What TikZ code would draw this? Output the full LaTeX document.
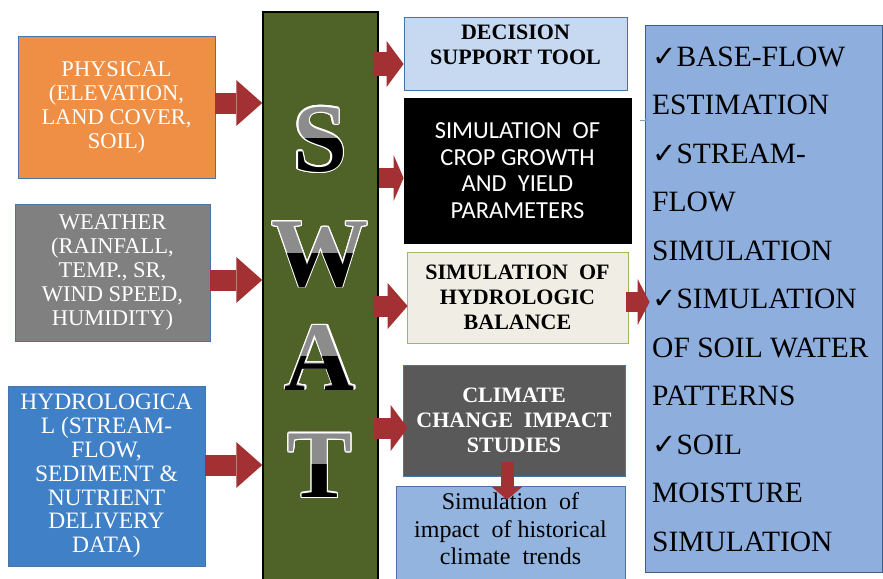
\documentclass[tikz,border=0pt]{standalone}
\usepackage{fontspec}
\setmainfont{Liberation Serif}
\newfontfamily\cropfont{Carlito}
\newfontfamily\chkfont{DejaVu Sans}
\usepackage{contour}
\contourlength{1.2pt}
\usetikzlibrary{arrows.meta,calc}

\definecolor{physorange}{HTML}{EF8F45}
\definecolor{weathergray}{HTML}{808080}
\definecolor{hydroblue}{HTML}{4080C6}
\definecolor{swatgreen}{HTML}{4F6228}
\definecolor{arrowred}{HTML}{A33033}
\definecolor{boxblue}{HTML}{4A74A8}
\definecolor{toolblue}{HTML}{C6D9F0}
\definecolor{cream}{HTML}{F0EEE4}
\definecolor{leafgreen}{HTML}{9BBB59}
\definecolor{darkgray}{HTML}{595959}
\definecolor{trendblue}{HTML}{93B4DF}
\definecolor{listblue}{HTML}{8EAFDE}
\definecolor{lettergray}{HTML}{8C8C8C}

\newcommand{\chkmark}{{\chkfont\fontsize{29}{29}\selectfont ✓}}

\tikzset{
  box/.style={draw=boxblue, line width=0.8pt, align=center, inner sep=0pt},
  inbox/.style={box, text=white, font=\fontsize{22.5}{24}\selectfont},
  outbox/.style={box, font=\fontsize{22}{25}\selectfont\bfseries},
  swatletter/.style={inner sep=0pt, font=\fontsize{97}{97}\selectfont\bfseries},
  bigarrow/.style={line width=21pt, draw=arrowred,
    -{Triangle[width=46pt,length=#1,line width=0pt]}},
  bigarrow/.default=26pt
}

\begin{document}
\begin{tikzpicture}[x=1pt,y=-1pt]
\useasboundingbox (0,0) rectangle (883,578);

% inputs
\node[inbox, fill=physorange, minimum width=197pt, minimum height=142pt] (phys) at (116.5,107)
  {PHYSICAL\\(ELEVATION,\\LAND COVER,\\SOIL)};
\node[inbox, fill=weathergray, minimum width=195pt, minimum height=137pt] (weather) at (112.5,272.5)
  {WEATHER\\(RAINFALL,\\TEMP., SR,\\WIND SPEED,\\HUMIDITY)};
\node[inbox, fill=hydroblue, minimum width=197pt, minimum height=180pt,
  font=\fontsize{23.5}{23.8}\selectfont] (hydro) at (106.5,476)
  {HYDROLOGICA\\L (STREAM-\\FLOW,\\SEDIMENT \&\\NUTRIENT\\DELIVERY\\DATA)};

% model column
\node[draw=black, line width=1.5pt, fill=swatgreen, minimum width=115pt, minimum height=580pt,
  inner sep=0pt] (swat) at (320.5,302) {};
\foreach \ltr/\ly in {S/140,W/255,A/358,T/466}{
  \node[swatletter, text=lettergray] (l\ltr) at (320,\ly) {\contour{white}{\ltr}};
  \begin{scope}
    \clip (263,\ly-2) rectangle (378,\ly+40);
    \node[swatletter, text=black] (d\ltr) at (320,\ly) {\ltr};
  \end{scope}
}

% outputs
\node[box, fill=toolblue, minimum width=223pt, minimum height=73pt] (tool) at (515.5,53.5) {};
\node[outbox, draw=none] (tooltext) at (515.5,45) {DECISION\\SUPPORT TOOL};
\node[box, draw=black, fill=black, text=white, minimum width=227pt, minimum height=145pt,
  font=\cropfont\fontsize{24.5}{26.5}\selectfont] (crop) at (517.5,170.5)
  {SIMULATION\ \ OF\\CROP GROWTH\\AND\ \ YIELD\\PARAMETERS};
\node[outbox, draw=leafgreen, fill=cream, minimum width=221pt, minimum height=91pt] (hbal) at (517.5,297.5)
  {SIMULATION\ \ OF\\HYDROLOGIC\\BALANCE};
\node[outbox, fill=darkgray, text=white, minimum width=222pt, minimum height=111pt] (climate) at (514,420.5)
  {CLIMATE\\CHANGE\ \ IMPACT\\STUDIES};
\node[box, fill=trendblue, minimum width=229pt, minimum height=104pt] (trends) at (510.5,538) {};
\node[box, draw=none, font=\fontsize{24}{27.5}\selectfont] (trendstext) at (510.5,529)
  {Simulation\ \ of\\impact\ \ of historical\\climate\ \ trends};
\node[box, draw=boxblue!80!black, fill=listblue, minimum width=237pt, minimum height=547pt] (list) at (763.5,298.5) {};
\node[anchor=west, align=left, inner sep=0pt, font=\fontsize{29.5}{48.5}\selectfont] (items) at (652,299)
  {\chkmark BASE-FLOW\\ESTIMATION\\\chkmark STREAM-\\FLOW\\SIMULATION\\\chkmark SIMULATION\\OF SOIL WATER\\PATTERNS\\\chkmark SOIL\\MOISTURE\\SIMULATION};

% rows of the arrows
\coordinate (rphys) at (0,103);
\coordinate (rweather) at (0,280);
\coordinate (rhydro) at (0,465);
\coordinate (rtool) at (0,64);
\coordinate (rcrop) at (0,178);
\coordinate (rhbal) at (0,306);
\coordinate (rclimate) at (0,428);
\coordinate (rlist) at (0,302);
\coordinate (rtiny) at (0,120);

\draw[bigarrow] (phys.east |- rphys) -- (swat.west |- rphys);
\draw[bigarrow] (weather.east |- rweather) -- (swat.west |- rweather);
\draw[bigarrow] (hydro.east |- rhydro) -- (swat.west |- rhydro);
\draw[bigarrow=17pt, line width=24pt, shorten <=-6pt] (swat.east |- rtool) -- (tool.west |- rtool);
\draw[bigarrow=10pt, line width=20pt] (swat.east |- rcrop) -- (crop.west |- rcrop);
\draw[bigarrow=20pt, shorten <=-6pt, shorten >=-1pt] (swat.east |- rhbal) -- (hbal.west |- rhbal);
\draw[bigarrow=17pt, shorten <=-5pt, shorten >=-5pt] (swat.east |- rclimate) -- (climate.west |- rclimate);
\draw[bigarrow=12pt, line width=20pt, shorten <=-2pt, shorten >=-5pt] (hbal.east |- rlist) -- (list.west |- rlist);
\draw[line width=13pt, draw=arrowred, -{Triangle[width=31pt,length=13pt,line width=0pt]}]
  ($(climate.south)+(-7,-14)$) -- ($(trends.north)+(-3.5,14)$);
\draw[-{Stealth[length=4pt]}, draw=boxblue!70, line width=0.6pt, shorten <=9pt, shorten >=-4pt]
  (crop.east |- rtiny) -- (list.west |- rtiny);
\end{tikzpicture}
\end{document}
